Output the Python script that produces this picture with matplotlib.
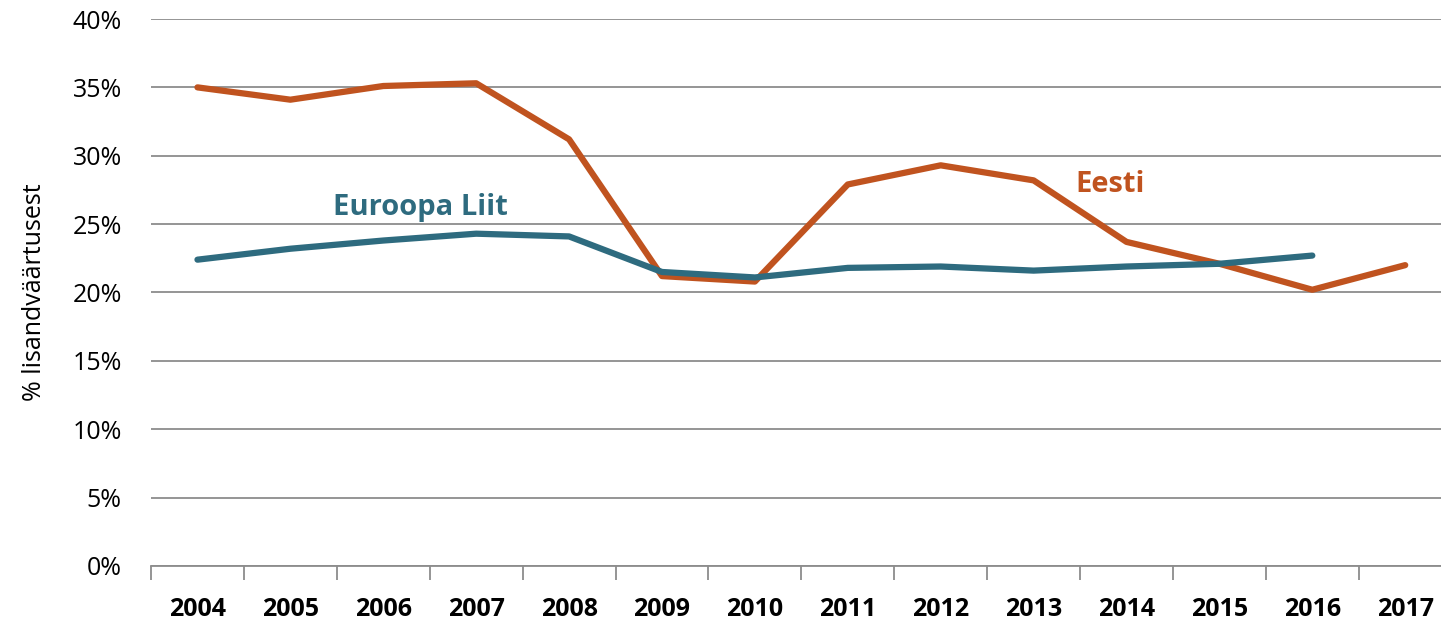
import numpy as np
import matplotlib
matplotlib.use("Agg")
import matplotlib.pyplot as plt
from matplotlib.ticker import FuncFormatter, FixedLocator

plt.rcParams['font.family'] = ['Open Sans', 'DejaVu Sans']

# Data
years = [2004, 2005, 2006, 2007, 2008, 2009, 2010, 2011, 2012, 2013, 2014, 2015, 2016, 2017]
eesti = [35.0, 34.1, 35.1, 35.3, 31.2, 21.2, 20.8, 27.9, 29.3, 28.2, 23.7, 22.1, 20.2, 22.0]
euroopa = [22.4, 23.2, 23.8, 24.3, 24.1, 21.5, 21.1, 21.8, 21.9, 21.6, 21.9, 22.1, 22.7]

eesti_color = '#C0531F'
eu_color = '#2E6B7F'

fig = plt.figure(figsize=(14.41, 6.21), dpi=100)
# the plot area runs a little past the right edge, as in the original
ax = fig.add_axes([0.1048, 0.0886, 0.9026, 0.8808])

x = np.arange(len(years))
ax.plot(x, eesti, color=eesti_color, lw=4.5, solid_capstyle='round')
ax.plot(x[:len(euroopa)], euroopa, color=eu_color, lw=4.5, solid_capstyle='round')

ax.text(2.4, 26.2, "Euroopa Liit", color=eu_color, fontsize=21, fontweight='bold',
        ha='center', va='center')
ax.text(9.82, 27.9, "Eesti", color=eesti_color, fontsize=21, fontweight='bold',
        ha='center', va='center')

ax.set_xlim(-0.5, len(years) - 0.5)
ax.set_ylim(0, 40)
ax.set_yticks(np.arange(0, 41, 5))
ax.yaxis.set_major_formatter(FuncFormatter(lambda v, p: f"{v:.0f}%"))
ax.grid(axis='y', color='#8c8c8c', lw=1.3)
ax.set_axisbelow(True)

ax.set_xticks(x)
ax.set_xticklabels([str(y) for y in years], fontsize=18, fontweight='bold')
ax.tick_params(axis='x', length=0, pad=22)
ax.xaxis.set_minor_locator(FixedLocator(np.arange(-0.5, len(years), 1)))
ax.tick_params(axis='x', which='minor', length=10, color='#8c8c8c', width=1.3)
ax.tick_params(axis='y', length=0, labelsize=18, pad=21)

for s in ['top', 'right', 'left']:
    ax.spines[s].set_visible(False)
ax.spines['bottom'].set_color('#8c8c8c')
ax.spines['bottom'].set_linewidth(1.3)

ax.set_ylabel("% lisandväärtusest", fontsize=18, labelpad=18)

fig.savefig("out.png", dpi=100)
